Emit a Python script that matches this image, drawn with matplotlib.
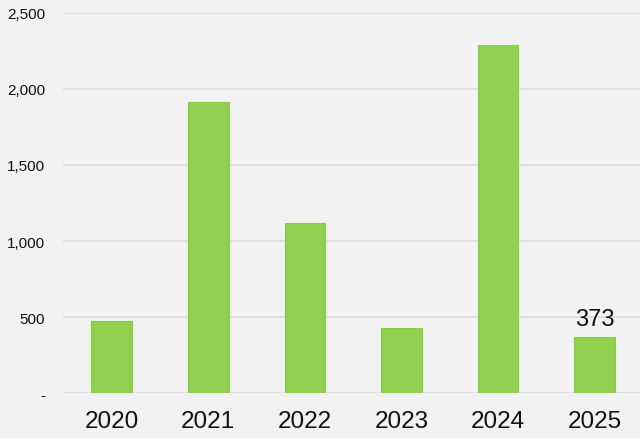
import matplotlib.pyplot as plt
from matplotlib.ticker import FuncFormatter

years = ["2020", "2021", "2022", "2023", "2024", "2025"]
values = [473, 1913, 1119, 427, 2288, 373]
labelled = {5: "373"}

plt.rcParams['font.family'] = ['Liberation Sans', 'DejaVu Sans']

fig = plt.figure(figsize=(6.4, 4.39), dpi=100, facecolor='#f2f2f2')
ax = fig.add_axes([0.099, 0.1018, 0.901, 0.867])
ax.set_facecolor('#f2f2f2')

x = range(len(years))
ax.bar(x, values, width=0.42, color='#92d050', edgecolor='#88cc44', linewidth=0.8, zorder=3)

# only the last bar carries a value label
for i, txt in labelled.items():
    ax.annotate(txt, (i, values[i]), xytext=(0, 5), textcoords='offset points',
                ha='center', va='bottom', fontsize=17, color='#111111')

ax.set_xlim(-0.5, 5.47)
ax.set_ylim(0, 2500)
ax.set_yticks([0, 500, 1000, 1500, 2000, 2500])
ax.yaxis.set_major_formatter(FuncFormatter(lambda v, p: '-' if v == 0 else '{:,.0f}'.format(v)))
ax.set_xticks(list(x))
ax.set_xticklabels(years)

ax.grid(axis='y', color='#dcdcdc', linewidth=1.2, zorder=0)
for s in ax.spines.values():
    s.set_visible(False)
ax.tick_params(axis='y', length=0, pad=13, labelsize=11, labelcolor='#111111')
ax.tick_params(axis='x', length=0, pad=12, labelsize=17.5, labelcolor='#111111')

fig.savefig('out.png', dpi=100, facecolor=fig.get_facecolor())
